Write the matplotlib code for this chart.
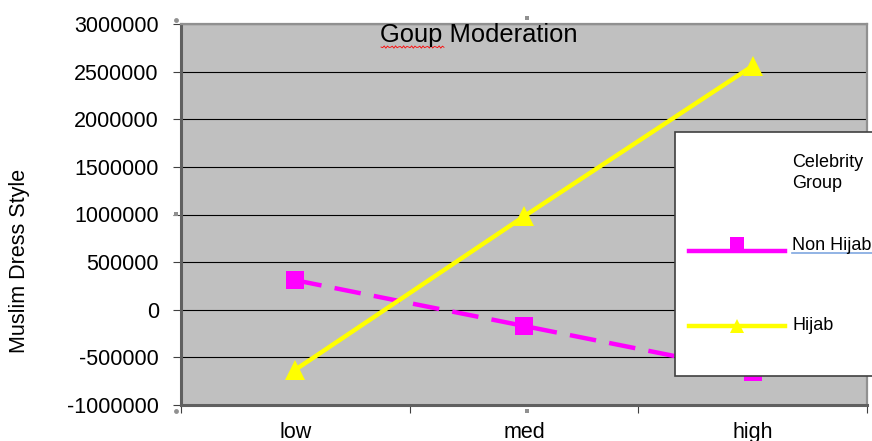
import matplotlib
matplotlib.use("Agg")
import matplotlib.pyplot as plt
from matplotlib.lines import Line2D
from matplotlib.patches import Rectangle
import numpy as np

plt.rcParams['font.family'] = ['Liberation Sans', 'DejaVu Sans']

categories = ["low", "med", "high"]
non_hijab = [310000, -170000, -650000]
hijab = [-630000, 980000, 2560000]
yticks = [-1000000, -500000, 0, 500000, 1000000, 1500000, 2000000, 2500000, 3000000]

fig = plt.figure(figsize=(8.72, 4.41), dpi=100)
ax = fig.add_axes([181/872, 1-405/441, (867-181)/872, (405-24)/441])
ax.set_facecolor("#C0C0C0")

x = np.arange(len(categories))
ax.plot(x, non_hijab, color="#FF00FF", lw=3.2, dashes=(6, 3), marker="s",
        markersize=13, markeredgewidth=0, zorder=3)
ax.plot(x, hijab, color="#FFFF00", lw=3.2, marker="^", markersize=15,
        markeredgewidth=0, zorder=4)

ax.set_xlim(-0.5, 2.5)
ax.set_ylim(-1000000, 3000000)
ax.set_yticks(yticks)
ax.set_yticklabels([str(v) for v in yticks], fontsize=15.5)
ax.yaxis.grid(True, color="black", lw=0.8)
ax.set_axisbelow(True)

ax.set_xticks([-0.5, 0.5, 1.5, 2.5])
ax.set_xticklabels([])
ax.set_xticks(x, minor=True)
ax.set_xticklabels(categories, minor=True, fontsize=15.5)
ax.tick_params(axis="x", which="minor", length=0, pad=12)
ax.tick_params(axis="x", which="major", length=6, color="#404040")
ax.tick_params(axis="y", length=6, color="#404040", pad=10)

for s in ["left", "bottom"]:
    ax.spines[s].set_color("#606060")
    ax.spines[s].set_linewidth(2.2)
for s in ["top", "right"]:
    ax.spines[s].set_color("#909090")
    ax.spines[s].set_linewidth(1.6)

# y label placed in figure pixel position
fig.text(20/872, 1-261/441, "Muslim Dress Style", fontsize=15.5, rotation=90,
         ha="center", va="center")

# title inside plot area
fig.text(380/872, 1-35/441, "Goup Moderation", fontsize=18.4, ha="left", va="center")
# red spellcheck squiggle under "Goup"
sx = np.linspace(381, 444, 40)
sy = 47 + 1.2*np.sin((sx-381)*1.6)
fig.add_artist(Line2D(sx/872, 1-sy/441, color="red", lw=0.6))

# selection handles
for hx, hy, hm in [(176, 20, "o"), (176, 411, "o"), (527, 18, "s"), (527, 411, "s"),
                   (176, 214, "s")]:
    fig.add_artist(Line2D([hx/872], [1-hy/441], color="#909090", marker=hm,
                          markersize=3.5, markeredgewidth=0, zorder=8))

# legend box (manual)
lx0, ly0, lx1, ly1 = 675, 132, 880, 376
fig.add_artist(Rectangle((lx0/872, 1-ly1/441), (lx1-lx0)/872, (ly1-ly0)/441,
                         facecolor="white", edgecolor="#404040", lw=1.2, zorder=5))
fig.text(792/872, 1-173/441, "Celebrity\nGroup", fontsize=13, ha="left", va="center",
         linespacing=1.35, zorder=6)
entries = [("Non Hijab", "#FF00FF", "s", 9.5, 251, 245, 7), ("Hijab", "#FFFF00", "^", 10, 326, 326, 0)]
for label, col, mk, ms, yy, ty, moff in entries:
    fig.add_artist(Line2D([689/872, 785/872], [1-yy/441]*2, color=col, lw=3.2, zorder=6))
    fig.add_artist(Line2D([737/872], [1-(yy-moff)/441], color=col, marker=mk, markersize=ms,
                          markeredgewidth=0, zorder=7))
    fig.text(792/872, 1-ty/441, label, fontsize=13, ha="left", va="center", zorder=6)
fig.add_artist(Line2D([792/872, 872/872], [1-253/441]*2, color="#7FA7E0", lw=1.2, zorder=6))

fig.savefig("out.png", dpi=100)
